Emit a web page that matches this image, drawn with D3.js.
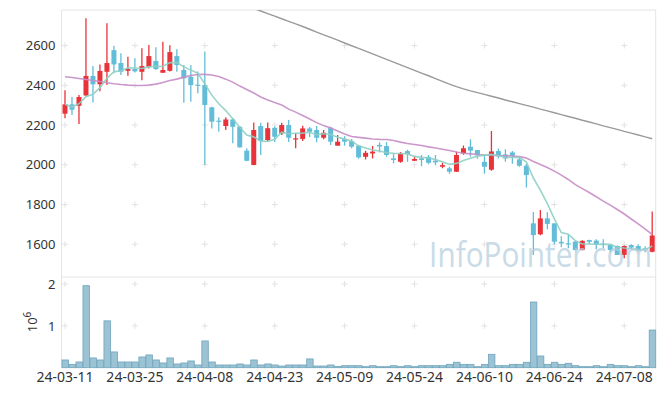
<!DOCTYPE html>
<html>
<head>
<meta charset="utf-8">
<script src="https://cdn.jsdelivr.net/npm/d3@7"></script>
<style>
  body { margin: 0; background: #fff; }
  svg { display: block; font-family: "Noto Sans", sans-serif; }
</style>
</head>
<body>
<svg id="chart" width="665" height="396"></svg>
<script>
// trading days, 2024-03-11 .. 2024-07-12
const dates = [
  "2024-03-11","2024-03-12","2024-03-13","2024-03-14","2024-03-15","2024-03-18","2024-03-19","2024-03-20","2024-03-21","2024-03-22",
  "2024-03-25","2024-03-26","2024-03-27","2024-03-28","2024-03-29","2024-04-01","2024-04-02","2024-04-03","2024-04-04","2024-04-05",
  "2024-04-08","2024-04-09","2024-04-11","2024-04-12","2024-04-15","2024-04-16","2024-04-17","2024-04-18","2024-04-19","2024-04-22",
  "2024-04-23","2024-04-24","2024-04-25","2024-04-26","2024-04-29","2024-04-30","2024-05-02","2024-05-03","2024-05-07","2024-05-08",
  "2024-05-09","2024-05-10","2024-05-13","2024-05-14","2024-05-16","2024-05-17","2024-05-20","2024-05-21","2024-05-22","2024-05-23",
  "2024-05-24","2024-05-27","2024-05-28","2024-05-29","2024-05-30","2024-05-31","2024-06-03","2024-06-04","2024-06-05","2024-06-07",
  "2024-06-10","2024-06-11","2024-06-12","2024-06-13","2024-06-14","2024-06-17","2024-06-18","2024-06-19","2024-06-20","2024-06-21",
  "2024-06-24","2024-06-25","2024-06-26","2024-06-27","2024-06-28","2024-07-01","2024-07-02","2024-07-03","2024-07-04","2024-07-05",
  "2024-07-08","2024-07-09","2024-07-10","2024-07-11","2024-07-12"
];

const open = [
  2257,2304,2297,2349,2447,2405,2468,2577,2512,2473, 2482,2468,2493,2522,2463,2473,2547,2477,2443,2403,
  2401,2289,2222,2195,2228,2191,2071,1999,2195,2124, 2186,2158,2200,2128,2130,2183,2175,2136,2186,2096,
  2130,2119,2096,2040,2057,2100,2094,2032,2015,2069, 2020,2032,2040,2020,1990,1982,1965,2057,2091,2074,
  2015,1975,2069,2052,2062,2027,1995,1705,1650,1730, 1705,1612,1605,1613,1572,1621,1618,1603,1598,1591,
  1546,1596,1591,1580,1562
];
const high = [
  2375,2341,2351,2737,2497,2505,2712,2599,2561,2544, 2536,2586,2603,2591,2619,2602,2581,2502,2502,2470,
  2570,2292,2239,2239,2235,2195,2083,2213,2211,2213, 2193,2211,2225,2158,2196,2190,2195,2175,2191,2150,
  2143,2130,2100,2070,2095,2113,2115,2057,2064,2076, 2044,2049,2049,2049,2010,1990,2065,2097,2128,2074,
  2052,2170,2082,2078,2069,2040,2005,1762,1772,1761, 1705,1640,1646,1616,1620,1623,1625,1625,1600,1593,
  1593,1600,1600,1590,1765
];
const low = [
  2234,2250,2205,2345,2314,2370,2401,2460,2452,2448, 2465,2426,2485,2477,2463,2470,2468,2312,2317,2360,
  2000,2183,2166,2175,2108,2085,2018,1997,2049,2120, 2115,2150,2115,2083,2120,2138,2113,2128,2100,2096,
  2096,2083,2030,2027,2032,2062,2040,2007,2010,2015, 2019,1993,2003,1998,1982,1955,1963,2050,2040,2030,
  1955,1970,2032,2015,2005,1990,1886,1546,1645,1675, 1600,1585,1580,1568,1570,1600,1575,1580,1560,1546,
  1529,1575,1565,1560,1560
];
const close = [
  2304,2277,2341,2447,2405,2472,2512,2505,2468,2482, 2470,2497,2547,2482,2477,2567,2502,2435,2401,2398,
  2301,2217,2219,2228,2191,2088,2020,2175,2120,2184, 2141,2200,2136,2133,2183,2166,2136,2161,2116,2116,
  2116,2091,2037,2060,2066,2092,2049,2024,2054,2054, 2029,2024,2010,2012,1998,1965,2049,2083,2071,2049,
  1990,2067,2049,2032,2045,1995,1948,1646,1730,1702, 1613,1604,1600,1571,1617,1612,1598,1597,1571,1546,
  1591,1583,1568,1571,1644
];
const volume = [
  185000,80000,137000,1960000,233000,185000,1120000,377000,137000,137000,
  137000,257000,305000,185000,113000,233000,89000,113000,161000,65000,
  640000,137000,65000,65000,65000,89000,65000,185000,65000,89000,
  65000,40000,65000,65000,65000,210000,40000,40000,65000,30000,
  48000,48000,48000,24000,48000,24000,24000,48000,24000,48000,
  24000,48000,48000,48000,48000,80000,130000,80000,80000,24000,
  80000,320000,48000,48000,80000,80000,130000,1570000,280000,80000,
  130000,80000,105000,48000,24000,24000,48000,24000,80000,48000,
  48000,24000,48000,24000,900000
];
// 20-day average (begins before the window)
const ma20 = [
  2443,2439,2434,2429,2424,2419,2413,2408,2404,2401, 2399,2399,2401,2406,2414,2424,2431,2441,2449,2454,
  2455,2452,2444,2431,2416,2396,2379,2361,2341,2326, 2313,2301,2280,2265,2248,2230,2212,2197,2185,2170,
  2155,2142,2138,2134,2130,2128,2127,2122,2114,2107, 2102,2097,2090,2084,2078,2072,2064,2058,2055,2051,
  2049,2048,2046,2045,2044,2041,2034,2016,2001,1986, 1968,1948,1926,1900,1880,1860,1839,1817,1797,1775,
  1752,1727,1702,1676,1649
];
// long average, only visible from late April
const maLong = [
  null,null,null,null,null,null,null,null,null,null, null,null,null,null,null,null,null,null,null,null,
  null,null,null,null,null,null,2800,2787,2774,2761, 2748,2735,2722,2709,2696,2682,2668,2654,2641,2627,
  2613,2599,2586,2572,2558,2544,2530,2517,2503,2489, 2475,2461,2448,2434,2420,2406,2393,2382,2372,2363,
  2354,2345,2336,2326,2317,2308,2299,2290,2280,2271, 2262,2252,2243,2234,2224,2215,2206,2196,2187,2178,
  2168,2159,2150,2140,2131
];
const priceTicks = [1600, 1800, 2000, 2200, 2400, 2600];
const volumeTicks = [1e6, 2e6];
const tickLabels = ["24-03-11","24-03-25","24-04-08","24-04-23","24-05-09","24-05-24","24-06-10","24-06-24","24-07-08"];

const svg = d3.select("#chart");
const left = 61.5, right = 655.7;
const priceTop = 10, priceBottom = 277, volBottom = 367.7;

const x = d3.scaleBand().domain(dates).range([left, right]).padding(0);
const y = d3.scaleLinear().domain([1435, 2779]).range([priceBottom, priceTop]);
const yv = d3.scaleLinear().domain([0, 2.168e6]).range([volBottom, priceBottom]);
const cx = d => x(d) + x.bandwidth() / 2;

const data = dates.map((d, i) => ({
  date: d, o: open[i], h: high[i], l: low[i], c: close[i], v: volume[i],
  ma5: d3.mean(close.slice(Math.max(0, i - 4), i + 1)),
  ma20: ma20[i], maLong: maLong[i]
}));

svg.append("clipPath").attr("id", "clipPrice")
  .append("rect").attr("x", left).attr("y", priceTop)
  .attr("width", right - left).attr("height", priceBottom - priceTop);

// frame
const frame = svg.append("g").attr("stroke", "#e4e4e4").attr("stroke-width", 1);
frame.append("line").attr("x1", left).attr("x2", left).attr("y1", priceTop).attr("y2", volBottom);
frame.append("line").attr("x1", right).attr("x2", right).attr("y1", priceTop).attr("y2", volBottom);
frame.append("line").attr("x1", left).attr("x2", right).attr("y1", priceTop).attr("y2", priceTop);
frame.append("line").attr("x1", left).attr("x2", right).attr("y1", priceBottom).attr("y2", priceBottom);

// grid crosses
const tickDates = tickLabels.map(t => "20" + t);
const crossPts = [];
tickDates.forEach(d => {
  priceTicks.forEach(p => crossPts.push([cx(d), y(p)]));
  volumeTicks.forEach(v => crossPts.push([cx(d), yv(v)]));
});
svg.append("g").attr("stroke", "#e2e2e2").attr("stroke-width", 1)
  .selectAll("path").data(crossPts).join("path")
  .attr("d", p => `M${p[0]-3},${p[1]}h6M${p[0]},${p[1]-3}v6`);

// volume bars
svg.append("g").selectAll("rect").data(data).join("rect")
  .attr("x", d => x(d.date) + 0.5)
  .attr("y", d => yv(d.v))
  .attr("width", x.bandwidth() - 0.5)
  .attr("height", d => volBottom - yv(d.v))
  .attr("fill", "#9bc3d4")
  .attr("stroke", "#6fa5bd")
  .attr("stroke-width", 0.8);

// candles
const up = "#e8333a", down = "#63bdd8";
const candles = svg.append("g").attr("clip-path", "url(#clipPrice)");
const bw = 5;
candles.selectAll("line").data(data).join("line")
  .attr("x1", d => cx(d.date)).attr("x2", d => cx(d.date))
  .attr("y1", d => y(d.h)).attr("y2", d => y(d.l))
  .attr("stroke", d => d.c >= d.o ? up : down)
  .attr("stroke-width", 1.3);
candles.selectAll("rect").data(data).join("rect")
  .attr("x", d => cx(d.date) - bw / 2)
  .attr("y", d => y(Math.max(d.o, d.c)))
  .attr("width", bw)
  .attr("height", d => Math.max(1.2, Math.abs(y(d.o) - y(d.c))))
  .attr("fill", d => d.c >= d.o ? up : down);

// moving averages
const lines = svg.append("g").attr("clip-path", "url(#clipPrice)").attr("fill", "none");
const lineOf = key => d3.line()
  .defined(d => d[key] != null)
  .x(d => cx(d.date)).y(d => y(d[key]));
lines.append("path").datum(data).attr("d", lineOf("maLong"))
  .attr("stroke", "#9a9a9a").attr("stroke-width", 1.4);
lines.append("path").datum(data).attr("d", lineOf("ma20"))
  .attr("stroke", "#c78dc6").attr("stroke-width", 1.6).attr("opacity", 0.9);
lines.append("path").datum(data).attr("d", lineOf("ma5"))
  .attr("stroke", "#8fcfc4").attr("stroke-width", 1.6).attr("opacity", 0.9);

// watermark (narrowed to fit the plot corner)
svg.append("text")
  .attr("transform", "translate(652,267) scale(0.85,1)")
  .attr("text-anchor", "end")
  .attr("font-family", "'Open Sans', sans-serif")
  .attr("font-size", 35)
  .attr("fill", "#b3cedd").attr("opacity", 0.72)
  .text("InfoPointer.com");

// axes
const yAxis = svg.append("g").attr("transform", `translate(${left},0)`)
  .call(d3.axisLeft(y).tickValues(priceTicks).tickFormat(d3.format("d")).tickSize(0).tickPadding(6));
const vAxis = svg.append("g").attr("transform", `translate(${left},0)`)
  .call(d3.axisLeft(yv).tickValues(volumeTicks).tickFormat(v => v / 1e6).tickSize(0).tickPadding(6));
const xAxis = svg.append("g").attr("transform", `translate(0,${volBottom})`)
  .call(d3.axisBottom(x).tickValues(tickDates).tickFormat(d => d.slice(2)).tickSize(0).tickPadding(4));

[yAxis, vAxis, xAxis].forEach(a => {
  a.select(".domain").remove();
  a.selectAll("text").attr("fill", "#333").attr("font-family", "'Noto Sans', sans-serif");
});
yAxis.selectAll("text").attr("font-size", 13);
vAxis.selectAll("text").attr("font-size", 13);
xAxis.selectAll("text").attr("font-size", 14);

const vLabel = svg.append("text")
  .attr("transform", "translate(37,322) rotate(-90)")
  .attr("text-anchor", "middle")
  .attr("font-size", 13).attr("fill", "#333");
vLabel.append("tspan").text("10");
vLabel.append("tspan").attr("dy", -6).attr("font-size", 10).text("6");
</script>
</body>
</html>
